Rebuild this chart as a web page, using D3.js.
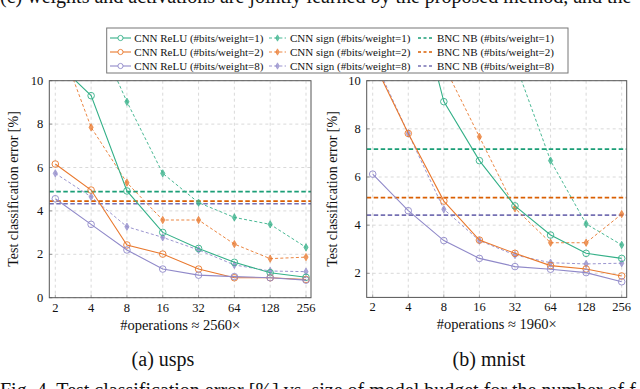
<!DOCTYPE html>
<html>
<head>
<meta charset="utf-8">
<script src="https://cdn.jsdelivr.net/npm/d3@7"></script>
<style>
  body { margin: 0; background: #fff; }
  svg { display: block; font-family: "Liberation Serif", "Times New Roman", serif; }
  text { fill: #111; }
</style>
</head>
<body>
<div id="chart"></div>
<script>
// x categories
const xVals = [2, 4, 8, 16, 32, 64, 128, 256];
const yTicksUsps = [0, 2, 4, 6, 8, 10];
const yTicksMnist = [2, 4, 6, 8, 10];

// usps
const uspsRelu1 = [10.9, 9.31, 4.92, 3.01, 2.27, 1.63, 1.15, 0.94];
const uspsRelu2 = [6.16, 4.96, 2.43, 2.01, 1.32, 0.92, 0.92, 0.84];
const uspsRelu8 = [4.56, 3.38, 2.20, 1.32, 1.04, 0.97, 0.92, 0.81];
const uspsSign1 = [15.5, 12.7, 9.03, 5.73, 4.38, 3.70, 3.38, 2.32];
const uspsSign2 = [12.3, 7.85, 5.30, 3.58, 3.58, 2.47, 1.80, 1.87];
const uspsSign8 = [5.73, 4.65, 3.27, 2.78, 2.20, 1.51, 1.23, 1.20];
const uspsBnc = [4.89, 4.45, 4.33];

// mnist
const mnistRelu1 = [19, 14.9, 9.13, 6.68, 4.80, 3.59, 2.83, 2.62];
const mnistRelu2 = [10.85, 7.81, 5.00, 3.38, 2.83, 2.32, 2.18, 1.89];
const mnistRelu8 = [6.12, 4.60, 3.36, 2.62, 2.28, 2.17, 2.03, 1.65];
const mnistSign1 = [30, 24, 18, 14, 10.76, 6.68, 4.05, 3.18];
const mnistSign2 = [18, 14, 10.64, 7.67, 4.70, 3.27, 3.27, 4.46];
const mnistSign8 = [11.0, 7.81, 4.66, 3.36, 2.76, 2.44, 2.39, 2.42];
const mnistBnc = [7.16, 5.14, 4.42];

const bitsLabels = ["1", "2", "8"];
const colors = ["#1b9e77", "#d95f02", "#7570b3"];
const reluColors = ["#34b088", "#e9782d", "#9089c9"];

const W = 640, H = 389;
const svg = d3.select("#chart").append("svg")
    .attr("width", W).attr("height", H);

// cut-off text lines from the surrounding paper
svg.append("text").attr("x", 0).attr("y", 3)
    .style("font-size", "20px")
    .text("(c) weights and activations are jointly learned by the proposed method, and the");
svg.append("text").attr("x", 0).attr("y", 397)
    .style("font-size", "20px")
    .text("Fig. 4.   Test classification error [%] vs. size of model budget for the number of f");

function panel(opts) {
  const x = d3.scaleLog().base(2).domain([2, 256]).range([opts.x0 + 6, opts.x1 - 5]);
  const y = d3.scaleLinear().domain(opts.yDomain).range([opts.y1, opts.y0]);
  const g = svg.append("g");

  const clipId = "clip" + opts.name;
  svg.append("clipPath").attr("id", clipId)
    .append("rect")
    .attr("x", opts.x0).attr("y", opts.y0)
    .attr("width", opts.x1 - opts.x0).attr("height", opts.y1 - opts.y0);

  // grid
  g.append("g").selectAll("line").data(xVals).join("line")
    .attr("x1", d => x(d)).attr("x2", d => x(d))
    .attr("y1", opts.y0).attr("y2", opts.y1)
    .attr("stroke", "#cfcfcf").attr("stroke-width", 0.8).attr("stroke-dasharray", "3,3");
  g.append("g").selectAll("line").data(opts.yTicks).join("line")
    .attr("x1", opts.x0).attr("x2", opts.x1)
    .attr("y1", d => y(d)).attr("y2", d => y(d))
    .attr("stroke", "#cfcfcf").attr("stroke-width", 0.8).attr("stroke-dasharray", "3,3");

  // inner ticks
  g.append("g").selectAll("line").data(xVals).join("line")
    .attr("x1", d => x(d)).attr("x2", d => x(d))
    .attr("y1", opts.y1).attr("y2", opts.y1 - 3)
    .attr("stroke", "#666").attr("stroke-width", 0.6);
  g.append("g").selectAll("line").data(opts.yTicks).join("line")
    .attr("x1", opts.x0).attr("x2", opts.x0 + 3)
    .attr("y1", d => y(d)).attr("y2", d => y(d))
    .attr("stroke", "#666").attr("stroke-width", 0.6);

  const plot = g.append("g").attr("clip-path", "url(#" + clipId + ")");
  const line = d3.line().x((d, i) => x(xVals[i])).y(d => y(d));

  // BNC NB horizontal dashed lines
  opts.bnc.forEach((v, k) => {
    plot.append("line")
      .attr("x1", opts.x0).attr("x2", opts.x1)
      .attr("y1", y(v)).attr("y2", y(v))
      .attr("stroke", colors[k]).attr("stroke-width", 1.7)
      .attr("stroke-dasharray", "4.5,2.5");
  });

  // CNN sign dashed lines with diamond markers
  opts.sign.forEach((vals, k) => {
    plot.append("path").datum(vals)
      .attr("d", line).attr("fill", "none")
      .attr("stroke", reluColors[k]).attr("stroke-width", 0.9)
      .attr("stroke-dasharray", "3,2.2");
    plot.append("g").selectAll("path").data(vals).join("path")
      .attr("transform", (d, i) => "translate(" + x(xVals[i]) + "," + y(d) + ")")
      .attr("d", d3.symbol(d3.symbolDiamond, 16))
      .attr("fill", reluColors[k]).attr("fill-opacity", 0.75)
      .attr("stroke", reluColors[k]).attr("stroke-width", 0.6);
  });

  // CNN ReLU solid lines with open circles
  opts.relu.forEach((vals, k) => {
    plot.append("path").datum(vals)
      .attr("d", line).attr("fill", "none")
      .attr("stroke", reluColors[k]).attr("stroke-width", 1.1);
    plot.append("g").selectAll("circle").data(vals).join("circle")
      .attr("cx", (d, i) => x(xVals[i])).attr("cy", d => y(d))
      .attr("r", 3.3)
      .attr("fill", "none")
      .attr("stroke", reluColors[k]).attr("stroke-width", 0.9);
  });

  // frame
  g.append("rect")
    .attr("x", opts.x0).attr("y", opts.y0)
    .attr("width", opts.x1 - opts.x0).attr("height", opts.y1 - opts.y0)
    .attr("fill", "none").attr("stroke", "#555").attr("stroke-width", 1);

  // tick labels
  g.append("g").selectAll("text").data(xVals).join("text")
    .attr("x", d => x(d)).attr("y", opts.y1 + 14)
    .attr("text-anchor", "middle").style("font-size", "12.5px")
    .text(d => d);
  g.append("g").selectAll("text").data(opts.yTicks).join("text")
    .attr("x", opts.x0 - 6).attr("y", d => y(d) + 4)
    .attr("text-anchor", "end").style("font-size", "12.5px")
    .text(d => d);

  // axis labels
  const cx = (opts.x0 + opts.x1) / 2;
  g.append("text")
    .attr("x", cx).attr("y", opts.y1 + 32)
    .attr("text-anchor", "middle").style("font-size", "14.5px")
    .text(opts.xLabel);
  g.append("text")
    .attr("transform", "translate(" + opts.yLabelX + ",189) rotate(-90)")
    .attr("text-anchor", "middle").style("font-size", "14px")
    .text("Test classification error [%]");

  // caption
  svg.append("text")
    .attr("x", opts.capX).attr("y", 366)
    .attr("text-anchor", "middle").style("font-size", "20px")
    .text(opts.caption);
}

panel({
  name: "usps", x0: 49.3, x1: 311, y0: 80.7, y1: 297.7,
  yDomain: [0, 10], yTicks: yTicksUsps,
  relu: [uspsRelu1, uspsRelu2, uspsRelu8],
  sign: [uspsSign1, uspsSign2, uspsSign8],
  bnc: uspsBnc,
  xLabel: "#operations \u2248 2560\u00d7", yLabelX: 18,
  caption: "(a) usps", capX: 163
});

panel({
  name: "mnist", x0: 366.7, x1: 626.7, y0: 80.7, y1: 297.4,
  yDomain: [1, 10], yTicks: yTicksMnist,
  relu: [mnistRelu1, mnistRelu2, mnistRelu8],
  sign: [mnistSign1, mnistSign2, mnistSign8],
  bnc: mnistBnc,
  xLabel: "#operations \u2248 1960\u00d7", yLabelX: 337,
  caption: "(b) mnist", capX: 489
});

// legend
const leg = svg.append("g");
leg.append("rect")
  .attr("x", 106.7).attr("y", 28).attr("width", 461.3).attr("height", 45)
  .attr("fill", "#fff").attr("stroke", "#777").attr("stroke-width", 1);

bitsLabels.forEach((b, k) => {
  const ry = 38 + k * 14;
  // ReLU
  leg.append("line").attr("x1", 110).attr("x2", 131).attr("y1", ry).attr("y2", ry)
    .attr("stroke", reluColors[k]).attr("stroke-width", 1.1);
  leg.append("circle").attr("cx", 120.5).attr("cy", ry).attr("r", 2.6)
    .attr("fill", "#fff").attr("stroke", reluColors[k]).attr("stroke-width", 0.9);
  leg.append("text").attr("x", 134.3).attr("y", ry + 3.8).style("font-size", "11px")
    .text("CNN ReLU (#bits/weight=" + b + ")");
  // sign
  leg.append("line").attr("x1", 269).attr("x2", 286).attr("y1", ry).attr("y2", ry)
    .attr("stroke", reluColors[k]).attr("stroke-width", 0.9).attr("stroke-dasharray", "3,2.2");
  leg.append("path").attr("transform", "translate(277.5," + ry + ")")
    .attr("d", d3.symbol(d3.symbolDiamond, 12))
    .attr("fill", reluColors[k]).attr("fill-opacity", 0.75)
    .attr("stroke", reluColors[k]).attr("stroke-width", 0.5);
  leg.append("text").attr("x", 290).attr("y", ry + 3.8).style("font-size", "11px")
    .text("CNN sign (#bits/weight=" + b + ")");
  // BNC
  leg.append("line").attr("x1", 418).attr("x2", 434).attr("y1", ry).attr("y2", ry)
    .attr("stroke", colors[k]).attr("stroke-width", 1.6).attr("stroke-dasharray", "3,2.5");
  leg.append("text").attr("x", 437).attr("y", ry + 3.8).style("font-size", "11px")
    .text("BNC NB (#bits/weight=" + b + ")");
});
</script>
</body>
</html>
